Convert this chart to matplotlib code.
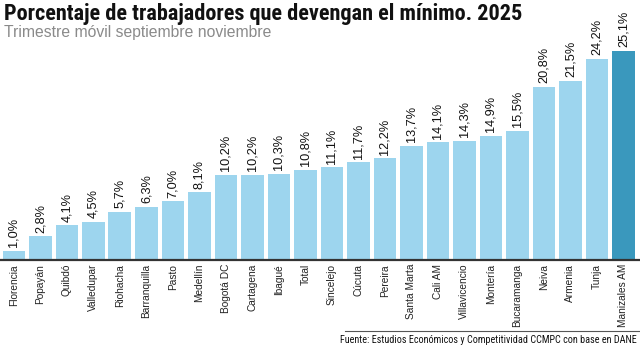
import matplotlib
matplotlib.use("Agg")
import matplotlib.pyplot as plt
from matplotlib.lines import Line2D

categories = ["Florencia", "Popayán", "Quibdó", "Valledupar", "Riohacha", "Barranquilla",
              "Pasto", "Medellín", "Bogotá DC", "Cartagena", "Ibagué", "Total", "Sincelejo",
              "Cúcuta", "Pereira", "Santa Marta", "Cali AM", "Villavicencio", "Montería",
              "Bucaramanga", "Neiva", "Armenia", "Tunja", "Manizales AM"]
values = [1.0, 2.8, 4.1, 4.5, 5.7, 6.3, 7.0, 8.1, 10.2, 10.2, 10.3, 10.8, 11.1,
          11.7, 12.2, 13.7, 14.1, 14.3, 14.9, 15.5, 20.8, 21.5, 24.2, 25.1]
value_labels = [f"{v:.1f}%".replace(".", ",") for v in values]
highlight = "Manizales AM"

title = "Porcentaje de trabajadores que devengan el mínimo. 2025"
subtitle = "Trimestre móvil septiembre noviembre"
source = "Fuente: Estudios Económicos y Competitividad CCMPC con base en DANE"

LIGHT = "#9dd5ee"
DARK = "#3a98bd"
NARROW = ["Roboto Condensed", "Archivo Narrow", "DejaVu Sans"]
SANS = ["Liberation Sans", "DejaVu Sans"]

W, H = 640, 349
fig = plt.figure(figsize=(6.4, 3.49), dpi=100)
fig.patch.set_facecolor("white")

base_px = 259.5
ax = fig.add_axes([0, (H - base_px) / H, 1, base_px / H])
px_per_unit = 8.3
ax.set_ylim(0, base_px / px_per_unit)
pitch = 636 / 24
c0 = 2.5 + 0.43 * pitch
ax.set_xlim(-c0 / pitch, (W - c0) / pitch)

x = list(range(len(categories)))
colors = [DARK if c == highlight else LIGHT for c in categories]
ax.bar(x, values, width=0.86, color=colors, edgecolor="none", zorder=2)

for xi, v, lab in zip(x, values, value_labels):
    ax.text(xi, v + 0.45, lab, rotation=90, ha="center", va="bottom",
            fontsize=9.2, family=SANS, color="#111111", clip_on=False)

ax.axis("off")
ax.add_line(Line2D([0, 1], [0, 0], transform=ax.transAxes, color="#333333",
                   lw=1.6, clip_on=False, zorder=3))

for xi, c in zip(x, categories):
    ax.annotate(c, xy=(xi, 0), xytext=(0, -3.2), textcoords="offset points",
                rotation=90, ha="center", va="top", fontsize=7.3,
                family=SANS, color="#222222", annotation_clip=False)

fig.text(4 / W, 1 - 3 / H, title, ha="left", va="top", fontsize=16,
         fontweight="heavy", family=NARROW, color="#111111")
fig.text(4 / W, 1 - 25 / H, subtitle, ha="left", va="top", fontsize=11.3,
         family=SANS, color="#8a8a8a")

fig.add_artist(Line2D([345 / W, 1], [1 - 331 / H, 1 - 331 / H],
                      transform=fig.transFigure, color="#555555", lw=0.8))
fig.text(637 / W, 1 - 340 / H, source, ha="right", va="center", fontsize=7.3,
         family=NARROW, color="#111111")

fig.savefig("out.png", dpi=100, facecolor="white")
